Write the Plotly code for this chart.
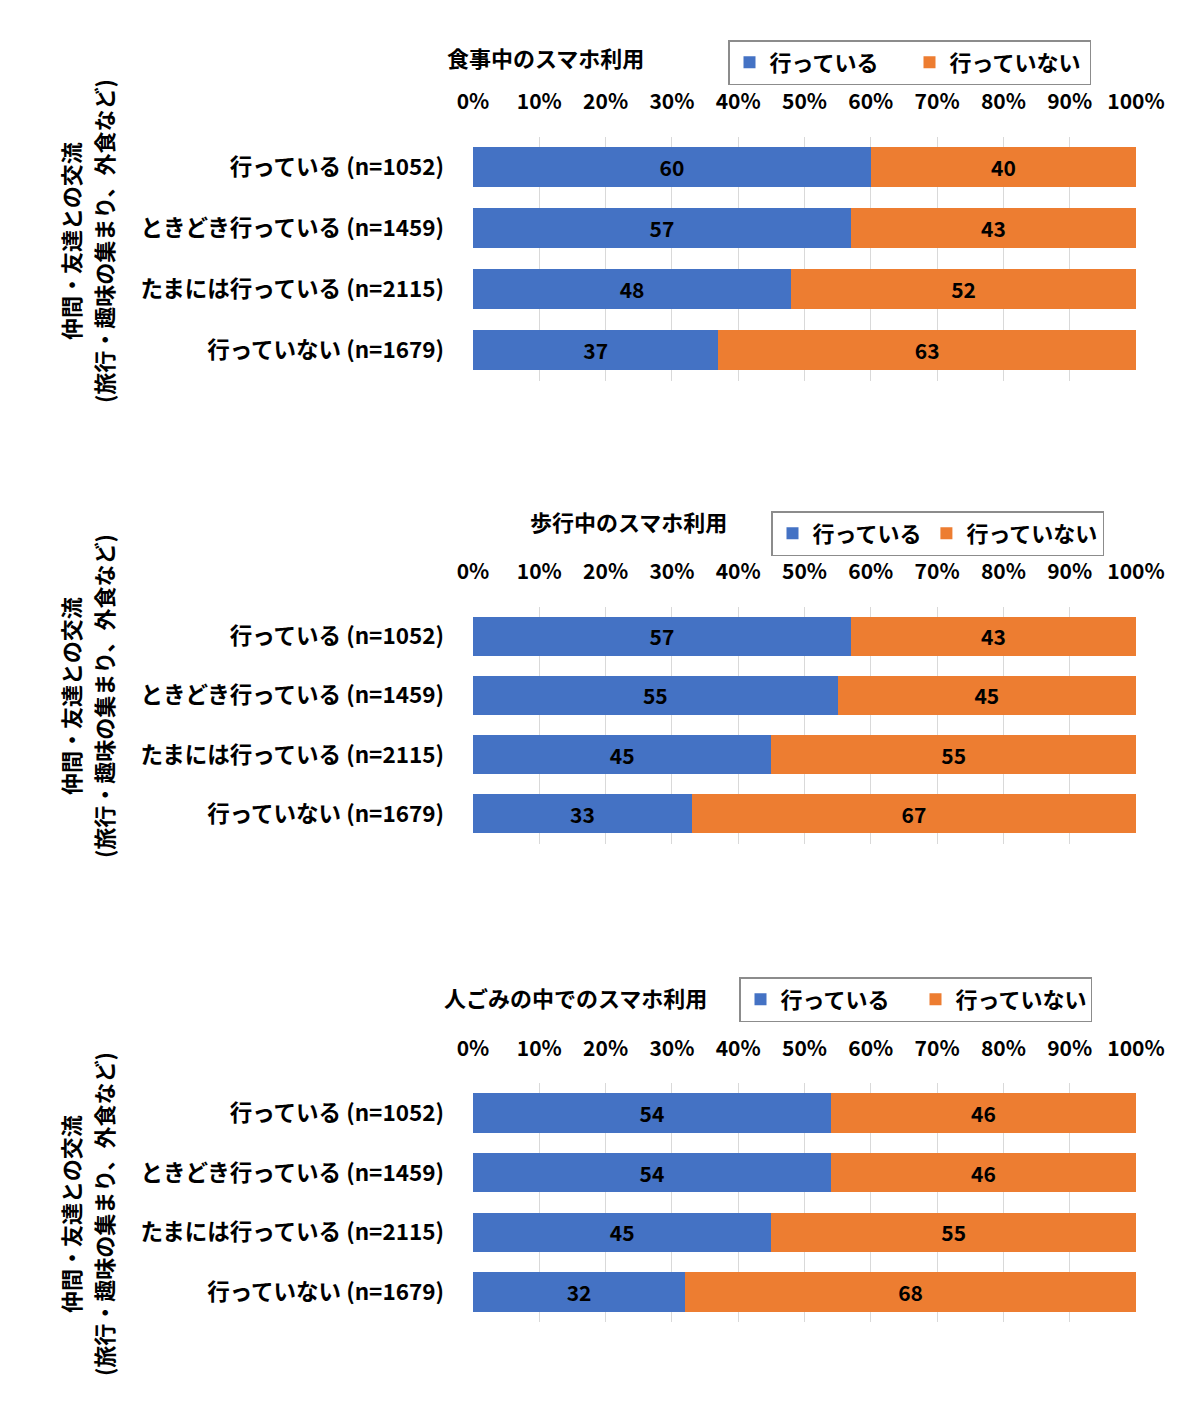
import plotly.graph_objects as go

categories = ["行っている (n=1052)", "ときどき行っている (n=1459)", "たまには行っている (n=2115)", "行っていない (n=1679)"]
series_names = ["行っている", "行っていない"]
panel_titles = ["食事中のスマホ利用", "歩行中のスマホ利用", "人ごみの中でのスマホ利用"]
yes_meal = [60, 57, 48, 37]
no_meal = [40, 43, 52, 63]
yes_walk = [57, 55, 45, 33]
no_walk = [43, 45, 55, 67]
yes_crowd = [54, 54, 45, 32]
no_crowd = [46, 46, 55, 68]
tick_values = [0, 10, 20, 30, 40, 50, 60, 70, 80, 90, 100]
tick_labels = ["0%", "10%", "20%", "30%", "40%", "50%", "60%", "70%", "80%", "90%", "100%"]
ytitle_line1 = "仲間・友達との交流"
ytitle_line2 = "(旅行・趣味の集まり、外食など)"

W, H = 1200, 1420
OFF = 8  # page body margin offset
BLUE = "#4472C4"
ORANGE = "#ED7D31"
JP = "Noto Sans CJK JP, Noto Sans, sans-serif"
NUM = "Liberation Sans Narrow, Noto Sans CJK JP, sans-serif"

def px(x):
    return (x - OFF) / W

def py(y):
    return 1 - (y - OFF) / H

panels = [
    dict(yes=yes_meal, no=no_meal, top=136.5, bottom=380.5, ty=57, tx=545, lx=728, ly=40, ew=135, yc=241),
    dict(yes=yes_walk, no=no_walk, top=606.5, bottom=843.5, ty=521, tx=628, lx=771, ly=511, ew=None, yc=696),
    dict(yes=yes_crowd, no=no_crowd, top=1083, bottom=1322, ty=997, tx=575, lx=739, ly=977, ew=130, yc=1214),
]
x0, x1 = 473, 1136

fig = go.Figure()
annotations = []
for i, p in enumerate(panels, start=1):
    sfx = "" if i == 1 else str(i)
    leg = "legend" if i == 1 else f"legend{i}"
    for name, vals, col in [(series_names[0], p["yes"], BLUE), (series_names[1], p["no"], ORANGE)]:
        fig.add_trace(go.Bar(
            y=categories, x=vals, name=name, orientation="h",
            marker=dict(color=col, line=dict(width=0)),
            text=[str(v) for v in vals], textposition="inside", insidetextanchor="middle",
            textfont=dict(family=NUM, size=21, color="black", weight="bold"),
            xaxis=f"x{sfx}", yaxis=f"y{sfx}", legend=leg, showlegend=True,
            hoverinfo="skip",
        ))
    legend_cfg = dict(
        orientation="h", x=px(p["lx"]), y=py(p["ly"]), xanchor="left", yanchor="top",
        bordercolor="#8C8C8C", borderwidth=1.5, bgcolor="white",
        font=dict(family=JP, size=22, color="black", weight="bold"),
        itemwidth=30, traceorder="normal",
    )
    if p["ew"]:
        legend_cfg.update(entrywidth=p["ew"], entrywidthmode="pixels")
    fig.update_layout(**{
        f"xaxis{sfx}": dict(
            domain=[px(x0), px(x1)], range=[0, 100], side="top", anchor=f"y{sfx}",
            tickvals=tick_values, ticktext=tick_labels,
            tickfont=dict(family=NUM, size=21, color="black", weight="bold"),
            showgrid=True, gridcolor="#D9D9D9", gridwidth=1, zeroline=False,
            showline=False, ticks="", ticklabelstandoff=22, fixedrange=True,
            automargin=False,
        ),
        f"yaxis{sfx}": dict(
            domain=[py(p["bottom"]), py(p["top"])], anchor=f"x{sfx}",
            autorange="reversed", type="category",
            tickfont=dict(family=JP, size=22.5, color="black", weight="bold"),
            showgrid=False, showline=False, ticks="", ticklabelstandoff=28, fixedrange=True,
            automargin=False,
        ),
        leg: legend_cfg,
    })
    annotations.append(dict(
        text=panel_titles[i - 1], xref="paper", yref="paper", x=px(p["tx"]), y=py(p["ty"]),
        xanchor="center", yanchor="middle", showarrow=False,
        font=dict(family=JP, size=22, color="black", weight="bold"),
    ))
    annotations.append(dict(
        text=ytitle_line1, xref="paper", yref="paper", x=px(70), y=py(p["yc"]),
        xanchor="center", yanchor="middle", showarrow=False, textangle=-90,
        font=dict(family=JP, size=22, color="black", weight="bold"),
    ))
    annotations.append(dict(
        text=ytitle_line2, xref="paper", yref="paper", x=px(103), y=py(p["yc"]),
        xanchor="center", yanchor="middle", showarrow=False, textangle=-90,
        font=dict(family=JP, size=22, color="black", weight="bold"),
    ))

fig.update_layout(
    template="none",
    width=W, height=H, margin=dict(l=0, r=0, t=0, b=0, autoexpand=False),
    barmode="stack", bargap=0.34,
    paper_bgcolor="white", plot_bgcolor="white",
    annotations=annotations,
    uniformtext=dict(mode="show", minsize=10),
)
fig.write_html("out.html")
